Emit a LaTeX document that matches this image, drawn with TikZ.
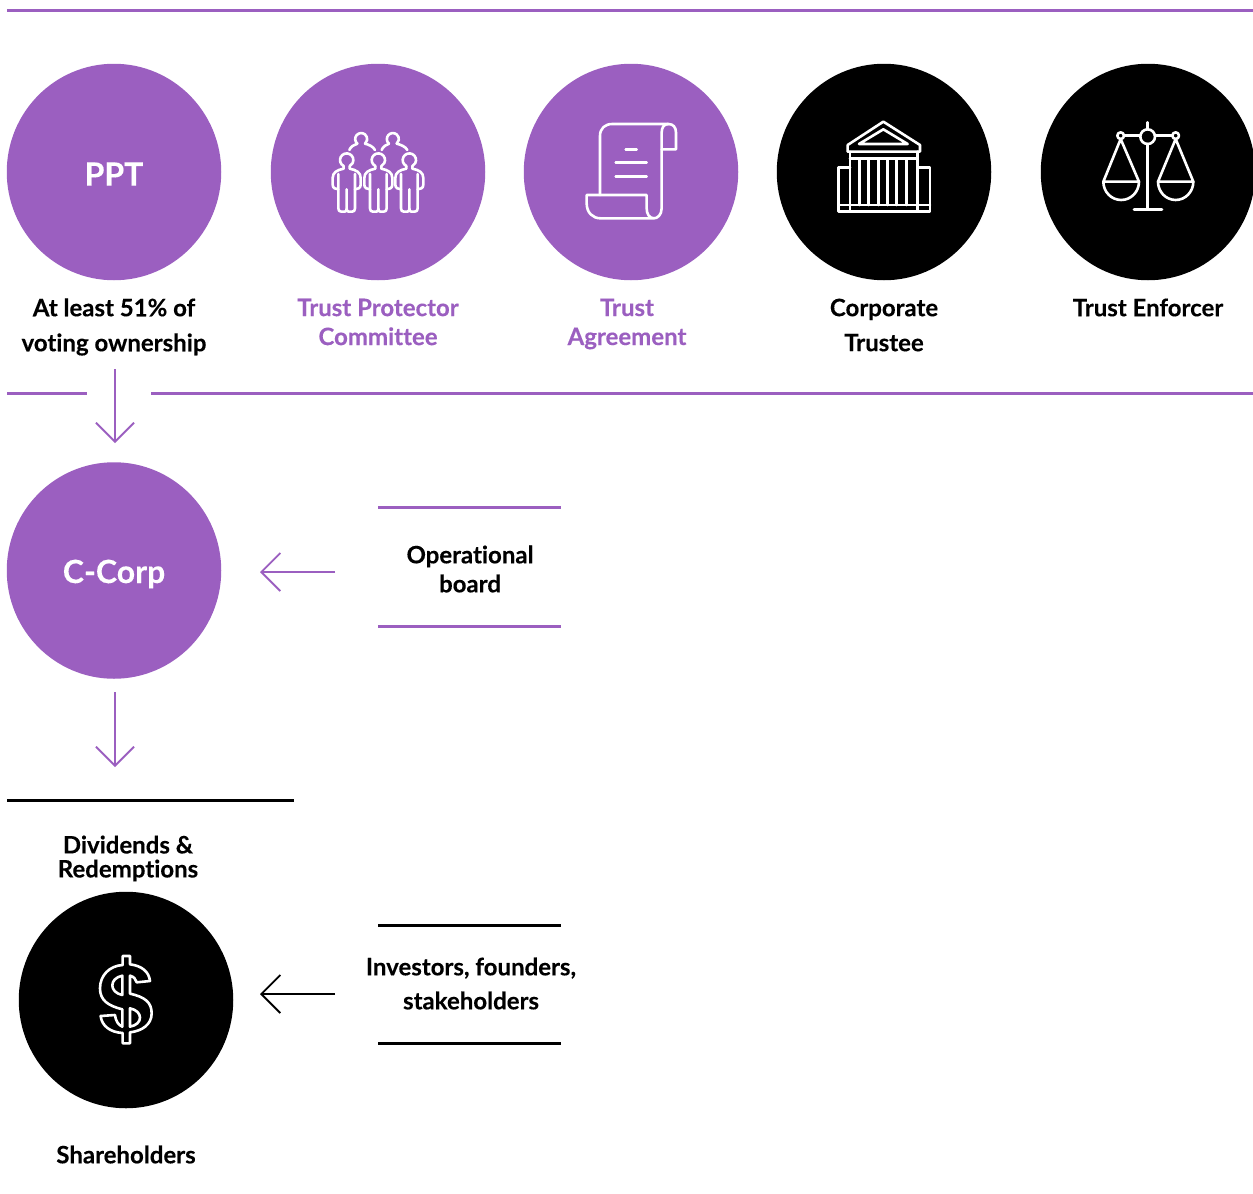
\documentclass[tikz,border=0pt]{standalone}
\usepackage{fontspec}
\setmainfont{Lato}[BoldFeatures={FakeBold=0.25},Ligatures=NoCommon]
\usetikzlibrary{arrows.meta,shapes.geometric}
\definecolor{brandpurple}{HTML}{9B5FC0}
\tikzset{
  x=1pt,y=-1pt,
  disc/.style={ellipse,minimum width=214.5pt,minimum height=216.5pt,inner sep=0pt,fill=#1},
  disclabel/.style={font=\fontsize{32}{36}\selectfont\bfseries,text=white},
  wide/.style={align=center,inner sep=0pt,font=\fontsize{24}{35}\selectfont\bfseries,text=black},
  tight/.style={align=center,inner sep=0pt,font=\fontsize{24}{29}\selectfont\bfseries},
  rule/.style={line width=3pt,draw=#1},
  flow/.style={line width=1.8pt,draw=#1,-{Straight Barb[length=19pt,width=38pt,line width=1.8pt]}},
  icon/.style={draw=white,line width=2.6pt,line join=round,line cap=round},
}
\newcommand{\zoomscope}[3]{\begin{scope}[shift={(#1,#2)},x=0.3333pt,y=-0.3333pt,icon]#3\end{scope}}
\begin{document}
\begin{tikzpicture}
\useasboundingbox (0,0) rectangle (1253,1194);
% rules
\coordinate (t1) at (7,10); \coordinate (t2) at (1253,10);
\draw[rule=brandpurple] (t1) -- (t2);
\coordinate (m1) at (7,393); \coordinate (m2) at (87,393);
\coordinate (m3) at (151,393); \coordinate (m4) at (1253,393);
\draw[rule=brandpurple] (m1) -- (m2) (m3) -- (m4);
% discs
\node[disc=brandpurple] (ppt) at (114,172) {};
\node[disclabel] (pptl) at (114,174) {PPT};
\node[disc=brandpurple] (tpc) at (378,172) {};
\node[disc=brandpurple] (ta) at (631,172) {};
\node[disc=black] (ct) at (884,172) {};
\node[disc=black] (te) at (1148,172) {};
\node[disc=brandpurple] (ccorp) at (114,570.5) {};
\node[disclabel] (ccorpl) at (114,574) {C-Corp};
\node[disc=black] (sh) at (126,1000) {};
% labels
\node[wide] (l1) at (114,327) {At least 51\% of\\voting ownership};
\node[tight,text=brandpurple] (l2) at (378,322) {Trust Protector\\Committee};
\node[tight,text=brandpurple] (l3) at (627,324) {Trust\\Agreement};
\node[wide] (l4) at (884,325) {Corporate\\Trustee};
\node[wide] (l5) at (1148,307.5) {Trust Enforcer};
\node[tight,text=black] (opb) at (470,569) {Operational\\board};
\node[align=center,inner sep=0pt,font=\fontsize{24}{24}\selectfont\bfseries] (div) at (128,858.5) {Dividends \&\\Redemptions};
\node[wide,font=\fontsize{24}{34}\selectfont\bfseries] (inv) at (471,983.5) {Investors, founders,\\stakeholders};
\node[wide] (shl) at (126,1154.5) {Shareholders};
% side rules
\coordinate (a1) at (378,507); \coordinate (a2) at (561,507);
\coordinate (a3) at (378,626); \coordinate (a4) at (561,626);
\draw[rule=brandpurple] (a1) -- (a2) (a3) -- (a4);
\coordinate (b1) at (7,800); \coordinate (b2) at (294,800);
\draw[rule=black] (b1) -- (b2);
\coordinate (c1) at (378,925); \coordinate (c2) at (561,925);
\coordinate (c3) at (378,1043); \coordinate (c4) at (561,1043);
\draw[rule=black] (c1) -- (c2) (c3) -- (c4);
% arrows
\coordinate (f1s) at (115,369); \coordinate (f1e) at (115,443);
\draw[flow=brandpurple] (f1s) -- (f1e);
\coordinate (f2s) at (335,572); \coordinate (f2e) at (260,572);
\draw[flow=brandpurple] (f2s) -- (f2e);
\coordinate (f3s) at (115,692); \coordinate (f3e) at (115,767);
\draw[flow=brandpurple] (f3s) -- (f3e);
\coordinate (f4s) at (335,994); \coordinate (f4e) at (260,994);
\draw[flow=black] (f4s) -- (f4e);
% people icon
\zoomscope{310}{110}{
  \draw (142,101) arc[start angle=130,end angle=410,radius=18];
  \draw (142,101) .. controls (132,104) and (122,110) .. (118,120);
  \draw (165,101) .. controls (177,104) and (190,110) .. (195,120);
  \draw (237,101) arc[start angle=130,end angle=410,radius=18];
  \draw (237,101) .. controls (228,104) and (219,110) .. (215,120);
  \draw (260,101) .. controls (272,104) and (287,110) .. (292,120);
  \foreach \hx in {110,205,298}{
    \begin{scope}[shift={(\hx,150)}]
      \draw (-9,18) arc[start angle=117,end angle=423,radius=20];
      \draw (-9,18) -- (-9,26) .. controls (-30,30) and (-42,38) .. (-42,54) -- (-42,74)
        .. controls (-42,84) and (-34,88) .. (-25,88);
      \draw (-25,42) -- (-25,145) .. controls (-25,152) and (-22,155) .. (-16,155) -- (-6,155)
        .. controls (-2,155) and (0,152) .. (0,146) -- (0,88);
      \draw (9,18) -- (9,26) .. controls (30,30) and (42,38) .. (42,54) -- (42,74)
        .. controls (42,84) and (34,88) .. (25,88);
      \draw (25,42) -- (25,145) .. controls (25,152) and (22,155) .. (16,155) -- (6,155)
        .. controls (2,155) and (0,152) .. (0,146);
    \end{scope}
  }
}
% scroll icon
\zoomscope{570}{110}{
  \draw (90,255) -- (90,78) .. controls (90,55) and (105,42) .. (127,42) -- (295,42)
    .. controls (310,42) and (318,52) .. (318,68) -- (318,118) -- (275,118);
  \draw (295,42) .. controls (282,42) and (275,52) .. (275,68) -- (275,295)
    .. controls (275,315) and (262,325) .. (252,325)
    .. controls (238,325) and (230,312) .. (230,295) -- (230,255) -- (50,255) -- (50,280)
    .. controls (50,308) and (68,325) .. (92,325) -- (252,325);
  \draw (167,118) -- (200,118);
  \draw (137,158) -- (230,158);
  \draw (137,200) -- (230,200);
}
% bank icon
\zoomscope{825}{110}{
  \draw (175,35) -- (285,105) -- (285,125) -- (68,125) -- (68,105) -- cycle;
  \draw (175,58) -- (248,102) -- (102,102) -- cycle;
  \draw (75,145) -- (278,145);
  \foreach \cx in {75,103,130,160,187,215,245,278}{ \draw (\cx,145) -- (\cx,285); }
  \draw (75,125) -- (75,145) (278,125) -- (278,145);
  \draw (75,172) -- (40,172) -- (40,305) -- (315,305) -- (315,172) -- (278,172);
  \draw (40,285) -- (315,285);
  \draw (75,285) -- (75,305) (278,285) -- (278,305);
}
% scales icon
\zoomscope{1090}{115}{
  \draw (173,65) circle[radius=22];
  \draw (173,22) -- (173,43);
  \draw (102,62) -- (151,62) (195,62) -- (247,62);
  \draw (92,62) circle[radius=10] (257,62) circle[radius=10];
  \draw (173,87) -- (173,284);
  \draw (132,284) -- (216,284);
  \draw (92,72) -- (40,200) -- (147,200) -- cycle;
  \draw (40,200) arc[start angle=180,end angle=360,x radius=53.5,y radius=-55];
  \draw (257,72) -- (204,200) -- (310,200) -- cycle;
  \draw (204,200) arc[start angle=180,end angle=360,x radius=53,y radius=-55];
}
% dollar icon
\zoomscope{85}{945}{
  \draw (113,33) -- (135,33) -- (135,58) .. controls (170,62) and (192,80) .. (195,108) -- (155,112)
    .. controls (153,102) and (146,95) .. (135,92) -- (135,146)
    .. controls (180,156) and (200,172) .. (200,205)
    .. controls (200,238) and (172,258) .. (135,262) -- (135,295) -- (113,295) -- (113,264)
    .. controls (75,262) and (50,242) .. (47,213) -- (90,210)
    .. controls (92,228) and (100,240) .. (112,245) -- (112,193)
    .. controls (68,182) and (45,165) .. (45,130)
    .. controls (45,90) and (75,62) .. (113,60) -- cycle;
  \draw (112,92) .. controls (72,100) and (72,142) .. (112,150) -- cycle;
  \draw (135,190) .. controls (175,198) and (175,238) .. (135,245) -- cycle;
}
\end{tikzpicture}
\end{document}
